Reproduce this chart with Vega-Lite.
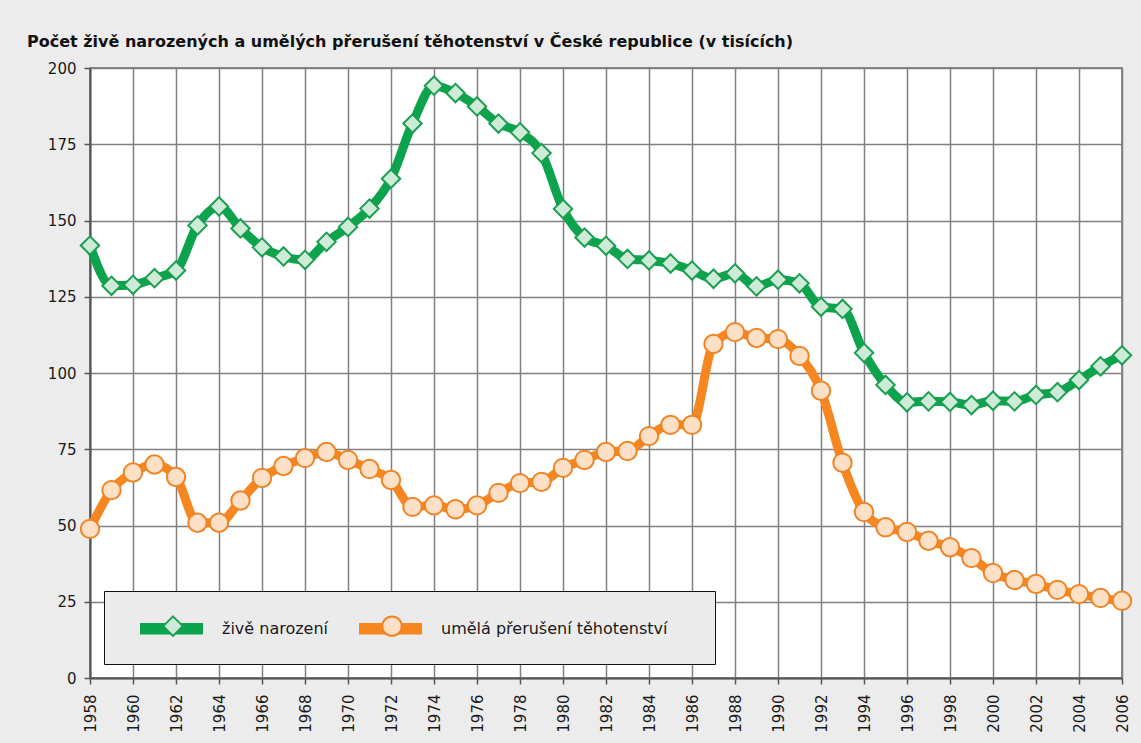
{
  "$schema": "https://vega.github.io/schema/vega-lite/v6.json",
  "width": 1032,
  "height": 610,
  "autosize": {"type": "none"},
  "padding": {"left": 90, "top": 68, "right": 19, "bottom": 65},
  "background": "#ececec",
  "title": {
    "text": "Počet živě narozených a umělých přerušení těhotenství v České republice (v tisících)",
    "anchor": "start",
    "frame": "group",
    "dx": -63,
    "offset": 11,
    "font": "DejaVu Sans",
    "fontSize": 16,
    "fontWeight": "bold",
    "color": "#111111"
  },
  "config": {
    "view": {"fill": "white", "stroke": "#666666", "strokeWidth": 1.5},
    "axis": {
      "labelFont": "DejaVu Sans",
      "labelFontSize": 15,
      "labelColor": "#1a1a1a",
      "gridColor": "#808080",
      "gridWidth": 1.5,
      "gridOpacity": 1,
      "domainColor": "#555555",
      "domainWidth": 2,
      "tickColor": "#555555",
      "tickWidth": 1.5,
      "tickSize": 6,
      "title": null
    }
  },
  "data": {
    "values": [
      {"year": 1958, "series": "živě narození", "value": 141.8},
      {"year": 1959, "series": "živě narození", "value": 128.6},
      {"year": 1960, "series": "živě narození", "value": 128.9},
      {"year": 1961, "series": "živě narození", "value": 131.1},
      {"year": 1962, "series": "živě narození", "value": 133.6},
      {"year": 1963, "series": "živě narození", "value": 148.4},
      {"year": 1964, "series": "živě narození", "value": 154.6},
      {"year": 1965, "series": "živě narození", "value": 147.4},
      {"year": 1966, "series": "živě narození", "value": 141.2},
      {"year": 1967, "series": "živě narození", "value": 138.2},
      {"year": 1968, "series": "živě narození", "value": 137.1},
      {"year": 1969, "series": "živě narození", "value": 143.0},
      {"year": 1970, "series": "živě narození", "value": 147.9},
      {"year": 1971, "series": "živě narození", "value": 153.9},
      {"year": 1972, "series": "živě narození", "value": 163.7},
      {"year": 1973, "series": "živě narození", "value": 181.8},
      {"year": 1974, "series": "živě narození", "value": 194.2},
      {"year": 1975, "series": "živě narození", "value": 191.8},
      {"year": 1976, "series": "živě narození", "value": 187.4},
      {"year": 1977, "series": "živě narození", "value": 181.8},
      {"year": 1978, "series": "živě narození", "value": 178.9},
      {"year": 1979, "series": "živě narození", "value": 172.1},
      {"year": 1980, "series": "živě narození", "value": 153.8},
      {"year": 1981, "series": "živě narození", "value": 144.4},
      {"year": 1982, "series": "živě narození", "value": 141.7},
      {"year": 1983, "series": "živě narození", "value": 137.4},
      {"year": 1984, "series": "živě narození", "value": 136.9},
      {"year": 1985, "series": "živě narození", "value": 135.9},
      {"year": 1986, "series": "živě narození", "value": 133.6},
      {"year": 1987, "series": "živě narození", "value": 130.9},
      {"year": 1988, "series": "živě narození", "value": 132.7},
      {"year": 1989, "series": "živě narození", "value": 128.4},
      {"year": 1990, "series": "živě narození", "value": 130.6},
      {"year": 1991, "series": "živě narození", "value": 129.4},
      {"year": 1992, "series": "živě narození", "value": 121.7},
      {"year": 1993, "series": "živě narození", "value": 121.0},
      {"year": 1994, "series": "živě narození", "value": 106.6},
      {"year": 1995, "series": "živě narození", "value": 96.1},
      {"year": 1996, "series": "živě narození", "value": 90.4},
      {"year": 1997, "series": "živě narození", "value": 90.7},
      {"year": 1998, "series": "živě narození", "value": 90.5},
      {"year": 1999, "series": "živě narození", "value": 89.5},
      {"year": 2000, "series": "živě narození", "value": 90.9},
      {"year": 2001, "series": "živě narození", "value": 90.7},
      {"year": 2002, "series": "živě narození", "value": 92.8},
      {"year": 2003, "series": "živě narození", "value": 93.7},
      {"year": 2004, "series": "živě narození", "value": 97.7},
      {"year": 2005, "series": "živě narození", "value": 102.2},
      {"year": 2006, "series": "živě narození", "value": 105.8},
      {"year": 1958, "series": "umělá přerušení těhotenství", "value": 48.9},
      {"year": 1959, "series": "umělá přerušení těhotenství", "value": 61.6},
      {"year": 1960, "series": "umělá přerušení těhotenství", "value": 67.4},
      {"year": 1961, "series": "umělá přerušení těhotenství", "value": 70.0},
      {"year": 1962, "series": "umělá přerušení těhotenství", "value": 65.9},
      {"year": 1963, "series": "umělá přerušení těhotenství", "value": 50.9},
      {"year": 1964, "series": "umělá přerušení těhotenství", "value": 50.9},
      {"year": 1965, "series": "umělá přerušení těhotenství", "value": 58.2},
      {"year": 1966, "series": "umělá přerušení těhotenství", "value": 65.6},
      {"year": 1967, "series": "umělá přerušení těhotenství", "value": 69.5},
      {"year": 1968, "series": "umělá přerušení těhotenství", "value": 72.1},
      {"year": 1969, "series": "umělá přerušení těhotenství", "value": 74.1},
      {"year": 1970, "series": "umělá přerušení těhotenství", "value": 71.5},
      {"year": 1971, "series": "umělá přerušení těhotenství", "value": 68.5},
      {"year": 1972, "series": "umělá přerušení těhotenství", "value": 64.9},
      {"year": 1973, "series": "umělá přerušení těhotenství", "value": 56.1},
      {"year": 1974, "series": "umělá přerušení těhotenství", "value": 56.6},
      {"year": 1975, "series": "umělá přerušení těhotenství", "value": 55.3},
      {"year": 1976, "series": "umělá přerušení těhotenství", "value": 56.6},
      {"year": 1977, "series": "umělá přerušení těhotenství", "value": 60.7},
      {"year": 1978, "series": "umělá přerušení těhotenství", "value": 63.9},
      {"year": 1979, "series": "umělá přerušení těhotenství", "value": 64.3},
      {"year": 1980, "series": "umělá přerušení těhotenství", "value": 68.9},
      {"year": 1981, "series": "umělá přerušení těhotenství", "value": 71.5},
      {"year": 1982, "series": "umělá přerušení těhotenství", "value": 74.1},
      {"year": 1983, "series": "umělá přerušení těhotenství", "value": 74.4},
      {"year": 1984, "series": "umělá přerušení těhotenství", "value": 79.3},
      {"year": 1985, "series": "umělá přerušení těhotenství", "value": 83.0},
      {"year": 1986, "series": "umělá přerušení těhotenství", "value": 83.0},
      {"year": 1987, "series": "umělá přerušení těhotenství", "value": 109.5},
      {"year": 1988, "series": "umělá přerušení těhotenství", "value": 113.4},
      {"year": 1989, "series": "umělá přerušení těhotenství", "value": 111.5},
      {"year": 1990, "series": "umělá přerušení těhotenství", "value": 111.1},
      {"year": 1991, "series": "umělá přerušení těhotenství", "value": 105.6},
      {"year": 1992, "series": "umělá přerušení těhotenství", "value": 94.2},
      {"year": 1993, "series": "umělá přerušení těhotenství", "value": 70.6},
      {"year": 1994, "series": "umělá přerušení těhotenství", "value": 54.4},
      {"year": 1995, "series": "umělá přerušení těhotenství", "value": 49.4},
      {"year": 1996, "series": "umělá přerušení těhotenství", "value": 47.9},
      {"year": 1997, "series": "umělá přerušení těhotenství", "value": 45.0},
      {"year": 1998, "series": "umělá přerušení těhotenství", "value": 42.9},
      {"year": 1999, "series": "umělá přerušení těhotenství", "value": 39.3},
      {"year": 2000, "series": "umělá přerušení těhotenství", "value": 34.4},
      {"year": 2001, "series": "umělá přerušení těhotenství", "value": 32.1},
      {"year": 2002, "series": "umělá přerušení těhotenství", "value": 30.8},
      {"year": 2003, "series": "umělá přerušení těhotenství", "value": 28.9},
      {"year": 2004, "series": "umělá přerušení těhotenství", "value": 27.5},
      {"year": 2005, "series": "umělá přerušení těhotenství", "value": 26.2},
      {"year": 2006, "series": "umělá přerušení těhotenství", "value": 25.3}
    ]
  },
  "encoding": {
    "x": {
      "field": "year",
      "type": "quantitative",
      "scale": {"domain": [1958, 2006], "nice": false, "zero": false},
      "axis": {
        "values": [1958, 1960, 1962, 1964, 1966, 1968, 1970, 1972, 1974, 1976, 1978, 1980, 1982, 1984, 1986, 1988, 1990, 1992, 1994, 1996, 1998, 2000, 2002, 2004, 2006],
        "format": "d",
        "labelAngle": 270,
        "labelPadding": 10,
        "labelFlush": false,
        "labelOverlap": false
      }
    },
    "y": {
      "field": "value",
      "type": "quantitative",
      "scale": {"domain": [0, 200], "nice": false},
      "axis": {"values": [0, 25, 50, 75, 100, 125, 150, 175, 200], "labelPadding": 8}
    }
  },
  "layer": [
    {
      "mark": {"type": "line", "strokeWidth": 9, "interpolate": "monotone"},
      "encoding": {
        "color": {
          "field": "series",
          "type": "nominal",
          "scale": {
            "domain": ["živě narození", "umělá přerušení těhotenství"],
            "range": ["#0ba34b", "#f6861f"]
          },
          "legend": {
            "title": " ",
            "titleOrient": "right",
            "titlePadding": 20,
            "titleFontSize": 16,
            "orient": "none",
            "legendX": 14,
            "legendY": 523,
            "direction": "horizontal",
            "symbolType": "M-3,-0.55H3V0.55H-3Z",
            "symbolSize": 441,
            "symbolStrokeWidth": 0,
            "symbolOffset": 30,
            "labelOffset": 40,
            "columnPadding": 21,
            "padding": 27,
            "fillColor": "#ebebeb",
            "strokeColor": "#111111",
            "labelFont": "DejaVu Sans",
            "labelFontSize": 16,
            "labelColor": "#1a1a1a",
            "labelLimit": 400,
            "zindex": 1,
            "encode": {
              "symbols": {
                "update": {
                  "fill": {"signal": "datum.value === 'živě narození' ? '#0ba34b' : '#f6861f'"},
                  "fillOpacity": {"value": 1},
                  "opacity": {"value": 1},
                  "strokeWidth": {"value": 0}
                }
              }
            }
          }
        }
      }
    },
    {
      "mark": {
        "type": "point",
        "filled": true,
        "size": 340,
        "strokeWidth": 2,
        "opacity": 1,
        "fill": {"expr": "(datum.series || datum.value) === 'živě narození' ? '#cdebd7' : '#fde0c6'"},
        "stroke": {"expr": "(datum.series || datum.value) === 'živě narození' ? '#1a9e50' : '#f08424'"}
      },
      "encoding": {
        "shape": {
          "field": "series",
          "type": "nominal",
          "scale": {
            "domain": ["živě narození", "umělá přerušení těhotenství"],
            "range": ["diamond", "circle"]
          },
          "legend": {
            "title": null,
            "orient": "bottom-left",
            "offset": 38,
            "direction": "horizontal",
            "symbolSize": 380,
            "symbolStrokeWidth": 2,
            "symbolOffset": 34,
            "labelExpr": "''",
            "labelOffset": 0,
            "columnPadding": 160,
            "padding": 0,
            "zindex": 2,
            "encode": {
              "symbols": {
                "update": {
                  "fill": {"signal": "datum.value === 'živě narození' ? '#cdebd7' : '#fde0c6'"},
                  "stroke": {"signal": "datum.value === 'živě narození' ? '#1a9e50' : '#f08424'"},
                  "opacity": {"value": 1}
                }
              }
            }
          }
        }
      }
    }
  ]
}
